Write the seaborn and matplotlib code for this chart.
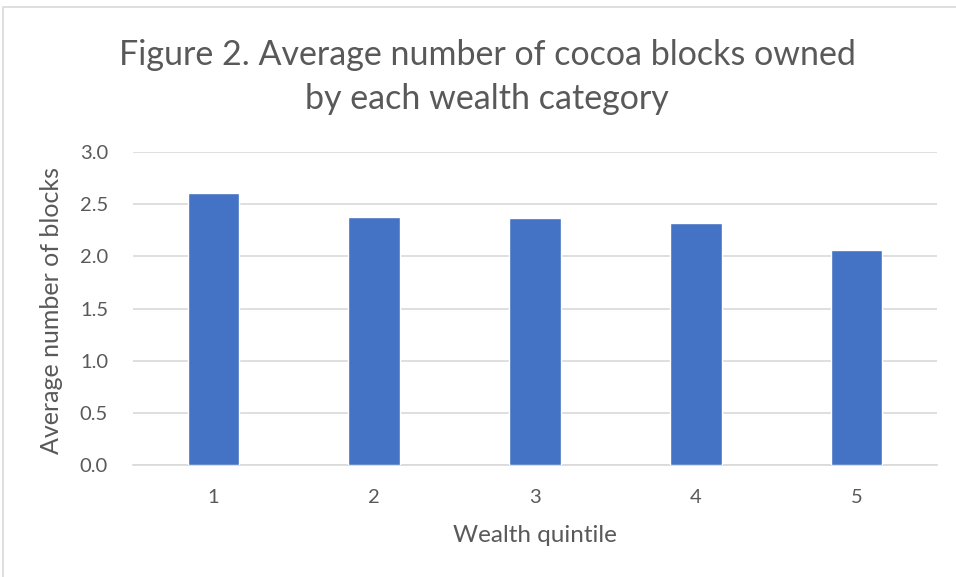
import matplotlib
matplotlib.use("Agg")
import matplotlib.pyplot as plt
import seaborn as sns
import pandas as pd
from matplotlib.patches import Rectangle

categories = ["1", "2", "3", "4", "5"]
values = [2.61, 2.38, 2.37, 2.32, 2.06]
yticks = [0.0, 0.5, 1.0, 1.5, 2.0, 2.5, 3.0]

sns.set_theme(style="white")
plt.rcParams['font.family'] = ['Lato', 'DejaVu Sans']

W, H = 956, 577
fig = plt.figure(figsize=(W / 100, H / 100), dpi=100)
fig.patch.set_facecolor("white")

# outer chart border
fig.add_artist(Rectangle((3 / W, -0.01), 1.0, (H - 7) / H + 0.01, transform=fig.transFigure,
                         fill=False, edgecolor="#D9D9D9", linewidth=1.2))

ax = fig.add_axes([133 / W, (H - 465) / H, 804 / W, (465 - 152) / H])
df = pd.DataFrame({"q": categories, "v": values})
sns.barplot(data=df, x="q", y="v", color="#4472C4", saturation=1, width=0.32, ax=ax, zorder=3)

ax.set_ylim(0, 3.0)
ax.set_xlim(-0.5, 4.5)
ax.set_yticks(yticks)
ax.set_yticklabels([f"{t:.1f}" for t in yticks])
ax.yaxis.grid(True, color="#D9D9D9", linewidth=1.2, zorder=0)
ax.set_axisbelow(True)
for s in ["top", "right", "left"]:
    ax.spines[s].set_visible(False)
ax.spines["bottom"].set_color("#D9D9D9")
ax.spines["bottom"].set_linewidth(1.2)
ax.tick_params(axis="both", length=0, labelsize=14.5, labelcolor="#595959")
ax.tick_params(axis="y", pad=18)
ax.tick_params(axis="x", pad=17)

ax.set_xlabel("Wealth quintile", fontsize=17.5, color="#595959", labelpad=14)
ax.set_ylabel("Average number of blocks", fontsize=18, color="#595959")
ax.yaxis.set_label_coords(-0.087, 0.495)

fig.text(487 / W, 1 - 77 / H, "Figure 2. Average number of cocoa blocks owned\nby each wealth category",
         ha="center", va="center", fontsize=24.5, color="#595959", linespacing=1.45)

fig.savefig("out.png", dpi=100, facecolor="white")
